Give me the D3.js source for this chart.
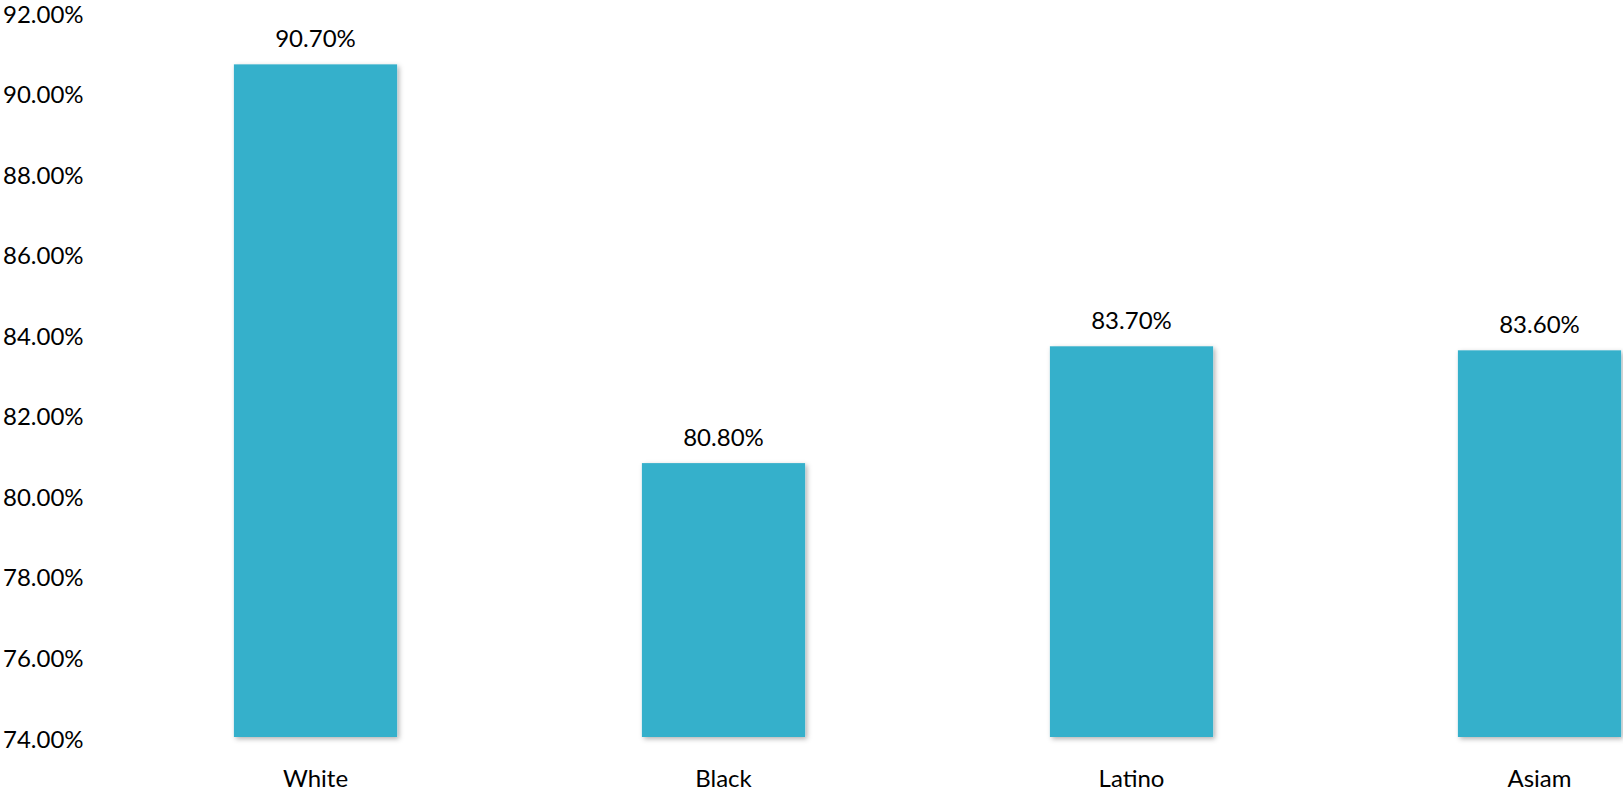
<!DOCTYPE html>
<html><head><meta charset="utf-8">
<script src="https://cdn.jsdelivr.net/npm/d3@7"></script>
<style>html,body{margin:0;padding:0;background:#fff;overflow:hidden}</style>
</head><body>
<svg id="chart" width="1623" height="794"></svg>
<script>
const categories = ["White", "Black", "Latino", "Asiam"];
const values = [90.7, 80.8, 83.7, 83.6];
const valueLabels = ["90.70%", "80.80%", "83.70%", "83.60%"];
const yTicks = [74, 76, 78, 80, 82, 84, 86, 88, 90, 92];

const svg = d3.select("#chart");
const font = "'Lato', 'Noto Sans', sans-serif";
const fs = 24;
const defs = svg.append("defs");
const f = defs.append("filter").attr("id","sh").attr("x","-10%").attr("y","-10%").attr("width","125%").attr("height","125%");
f.append("feDropShadow").attr("dx",2).attr("dy",2).attr("stdDeviation",2.5).attr("flood-color","#000").attr("flood-opacity",0.3);

const y = d3.scaleLinear().domain([74, 92]).range([737, 12]);
const x = d3.scaleBand().domain(categories).range([111.5, 1743.5]).paddingInner(0.6).paddingOuter(0.3);

const yAxis = d3.axisLeft(y).tickValues(yTicks).tickSize(0).tickFormat(d => d.toFixed(2) + "%");
const gy = svg.append("g").attr("transform","translate(3,0)").call(yAxis);
gy.select(".domain").remove();
gy.selectAll("text").attr("text-anchor","start").attr("x",0).attr("dy","0.42em")
  .attr("font-family",font).attr("font-size",fs).attr("fill","#000");

svg.append("g").selectAll("rect").data(values).join("rect")
  .attr("x",(d,i)=>x(categories[i])).attr("width",x.bandwidth())
  .attr("y",d=>y(d)).attr("height",d=>y(74)-y(d))
  .attr("fill","#35B0CB").attr("filter","url(#sh)");

svg.append("g").selectAll("text").data(values).join("text")
  .attr("x",(d,i)=>x(categories[i])+x.bandwidth()/2).attr("y",d=>y(d)-17)
  .attr("text-anchor","middle").attr("font-family",font).attr("font-size",fs).attr("fill","#000")
  .text((d,i)=>valueLabels[i]);

const xAxis = d3.axisBottom(x).tickSize(0);
const gx = svg.append("g").attr("transform","translate(0,737)").call(xAxis);
gx.select(".domain").remove();
gx.selectAll("text").attr("dy","0").attr("y",50).attr("font-family",font).attr("font-size",fs).attr("fill","#000");
</script>
</body></html>
